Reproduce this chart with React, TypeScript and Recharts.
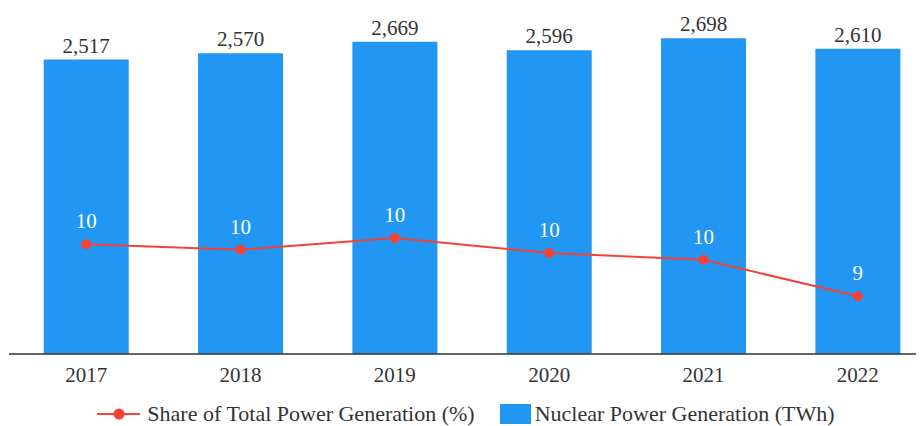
import { ComposedChart, Bar, Line, XAxis, YAxis, Legend, LabelList } from 'recharts'

const years = ['2017', '2018', '2019', '2020', '2021', '2022']
const generationTWh = [2517, 2570, 2669, 2596, 2698, 2610]
const sharePct = [10.28, 10.17, 10.41, 10.1, 9.96, 9.2]

const BLUE = '#2196F3'
const RED = '#F44336'
const FONT = "'Liberation Serif', 'Times New Roman', serif"

const data = years.map((year, i) => ({
  year,
  generation: generationTWh[i],
  share: sharePct[i],
}))

const textStyle = { fontFamily: FONT, fontSize: 22, color: '#333', lineHeight: '24px' }

function LegendContent() {
  return (
    <div
      style={{
        display: 'flex',
        justifyContent: 'center',
        alignItems: 'center',
        paddingLeft: 8,
        paddingTop: 8,
        ...textStyle,
      }}
    >
      <svg width={43} height={14} style={{ marginRight: 7 }}>
        <line x1={0} y1={7} x2={43} y2={7} stroke={RED} strokeWidth={2} />
        <circle cx={22} cy={7} r={5.5} fill={RED} />
      </svg>
      <span style={textStyle}>Share of Total Power Generation (%)</span>
      <svg width={31} height={20} style={{ marginLeft: 25, marginRight: 4 }}>
        <rect x={0} y={0} width={31} height={20} fill={BLUE} />
      </svg>
      <span style={textStyle}>Nuclear Power Generation (TWh)</span>
    </div>
  )
}

export default function App() {
  return (
    <div style={{ margin: '-8px 0 0 -8px', width: 924, height: 426, overflow: 'hidden', background: '#fff', fontFamily: FONT }}>
      <ComposedChart
        width={935}
        height={426}
        data={data}
        margin={{ top: 3, right: 0, left: 9, bottom: 0 }}
        barCategoryGap="22.5%"
      >
        <XAxis
          dataKey="year"
          tickLine={false}
          axisLine={{ stroke: '#333', strokeWidth: 1.5 }}
          tick={{ fill: '#333', fontSize: 21, fontFamily: FONT }}
          tickMargin={7}
          height={40}
        />
        <YAxis yAxisId="left" hide domain={[0, 3000]} />
        <YAxis yAxisId="right" hide orientation="right" domain={[8, 15.3]} />
        <Legend verticalAlign="bottom" height={32} content={() => <LegendContent />} wrapperStyle={{ left: 0, width: 924 }} />
        <Bar yAxisId="left" dataKey="generation" fill={BLUE} isAnimationActive={false}>
          <LabelList
            dataKey="generation"
            position="top"
            offset={7}
            formatter={(v: any) => Number(v).toLocaleString('en-US')}
            style={{ fill: '#333', fontSize: 21, fontFamily: FONT }}
          />
        </Bar>
        <Line
          yAxisId="right"
          dataKey="share"
          stroke={RED}
          strokeWidth={2}
          dot={{ r: 5, fill: RED, stroke: RED, strokeWidth: 0 }}
          activeDot={false}
          isAnimationActive={false}
        >
          <LabelList
            dataKey="share"
            position="top"
            offset={16}
            formatter={(v: any) => Math.round(Number(v))}
            style={{ fill: '#fff', fontSize: 21, fontFamily: FONT }}
          />
        </Line>
      </ComposedChart>
    </div>
  )
}
